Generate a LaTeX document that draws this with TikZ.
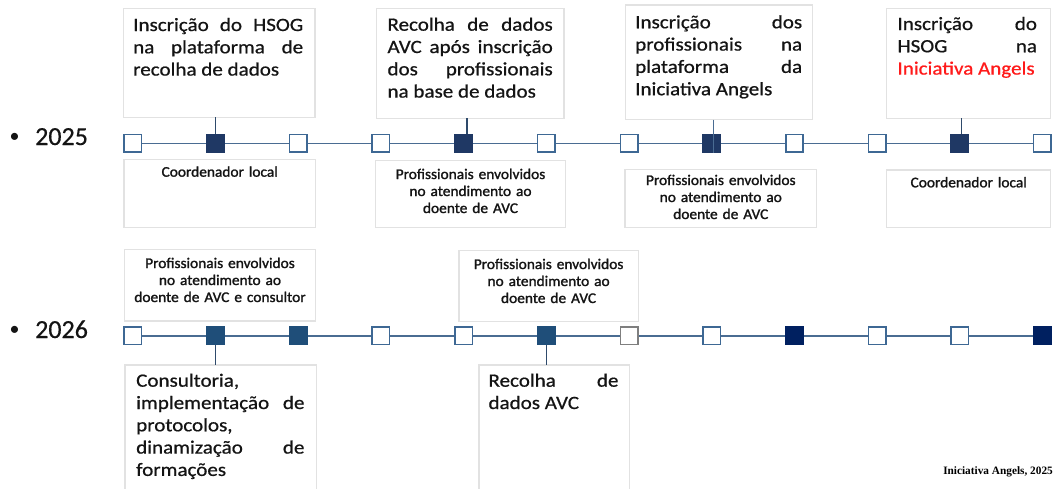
\documentclass[tikz,border=0pt]{standalone}
\usepackage{fontspec}
\setmainfont{Carlito}
\newfontfamily\bigf[FakeStretch=1.12,FakeBold=0.7]{Carlito}
\newfontfamily\smf[FakeStretch=1.04,FakeBold=1.4]{Carlito}
\newfontfamily\yrf[FakeBold=0.5]{Carlito}
\newfontfamily\credf{Liberation Serif}
\definecolor{linec}{HTML}{4A6C92}
\definecolor{sqc}{HTML}{3E6894}
\definecolor{fillA}{HTML}{1F3864}
\definecolor{fillB}{HTML}{1F4E79}
\definecolor{fillC}{HTML}{002060}
\definecolor{grayc}{HTML}{7F7F7F}
\definecolor{boxc}{HTML}{E2E2E2}
\definecolor{connc}{HTML}{2E4A6B}
\definecolor{txtc}{HTML}{141414}
\definecolor{redc}{HTML}{FF1A1A}
\hyphenpenalty=10000
\exhyphenpenalty=10000
\tolerance=10000
\hbadness=10000
\begin{document}
\begin{tikzpicture}[x=1pt,y=-1pt,
  frame/.style={draw=boxc, line width=1.5pt, anchor=north west, inner sep=0pt, outer sep=0pt},
  sq/.style={draw=sqc, line width=1.6pt, fill=white, minimum size=17.4pt, inner sep=0pt, outer sep=0.8pt},
  sqA/.style={sq, draw=fillA, fill=fillA},
  sqB/.style={sq, draw=fillB, fill=fillB},
  sqC/.style={sq, draw=fillC, fill=fillC},
  sqG/.style={sq, draw=grayc},
  tl/.style={draw=linec, line width=1.6pt},
  conn/.style={draw=connc, line width=1.2pt},
  bigtxt/.style={font=\bigf\fontsize{18.8}{22.3}\selectfont, text=txtc, align=justify, inner sep=0pt, anchor=base west},
  smtxt/.style={font=\smf\fontsize{14.8}{17}\selectfont, text=txtc, align=center, text width=200pt, inner sep=0pt, anchor=base},
  yr/.style={font=\yrf\fontsize{26}{30}\selectfont, text=txtc, inner sep=0pt}
]
\useasboundingbox (0,0) rectangle (1053,488);
\fill[white] (0,0) rectangle (1053,488);

% boxes, row 2025
\node[frame, minimum width=191.7pt, minimum height=109pt] (T1) at (123.3,8.3) {};
\node[frame, minimum width=187.5pt, minimum height=110pt] (T2) at (376.5,8.3) {};
\node[frame, minimum width=186.8pt, minimum height=114.5pt] (T3) at (625.5,5) {};
\node[frame, minimum width=164pt, minimum height=110pt] (T4) at (886.7,8.3) {};
\node[frame, minimum width=191.4pt, minimum height=68pt] (B1) at (124,159.5) {};
\node[frame, minimum width=189.6pt, minimum height=67pt] (B2) at (375.7,160.7) {};
\node[frame, minimum width=191.7pt, minimum height=58.4pt] (B3) at (625,169.3) {};
\node[frame, minimum width=164pt, minimum height=57.7pt] (B4) at (886.7,170) {};
% boxes, row 2026
\node[frame, minimum width=191pt, minimum height=71.5pt] (U1) at (124.4,249.5) {};
\node[frame, minimum width=179.3pt, minimum height=71pt] (U2) at (459,250.7) {};
\node[frame, minimum width=191.7pt, minimum height=130pt] (D1) at (125,365) {};
\node[frame, minimum width=150.3pt, minimum height=130pt] (D2) at (479,365) {};

% timelines
\coordinate (r1s) at (132.8,143.3);
\coordinate (r1e) at (1042.5,143.3);
\coordinate (r2s) at (132.8,335.7);
\coordinate (r2e) at (1042.5,335.7);
\draw[tl] (r1s) -- (r1e);
\draw[tl] (r2s) -- (r2e);

% squares 2025
\node[sq]  (a1)  at (132.8,143.3) {};
\node[sqA] (a2)  at (215.5,143.3) {};
\node[sq]  (a3)  at (298.2,143.3) {};
\node[sq]  (a4)  at (380.9,143.3) {};
\node[sqA] (a5)  at (463.6,143.3) {};
\node[sq]  (a6)  at (546.3,143.3) {};
\node[sq]  (a7)  at (629.0,143.3) {};
\node[sqA] (a8)  at (711.7,143.3) {};
\node[sq]  (a9)  at (794.4,143.3) {};
\node[sq]  (a10) at (877.1,143.3) {};
\node[sqA] (a11) at (959.8,143.3) {};
\node[sq]  (a12) at (1042.2,143.3) {};
% squares 2026
\node[sq]  (b1)  at (132.8,335.7) {};
\node[sqB] (b2)  at (215.5,335.7) {};
\node[sqB] (b3)  at (298.2,335.7) {};
\node[sq]  (b4)  at (380.9,335.7) {};
\node[sq]  (b5)  at (463.6,335.7) {};
\node[sqB] (b6)  at (546.3,335.7) {};
\node[sqG] (b7)  at (629.0,335.7) {};
\node[sq]  (b8)  at (711.7,335.7) {};
\node[sqC] (b9)  at (794.4,335.7) {};
\node[sq]  (b10) at (877.1,335.7) {};
\node[sq]  (b11) at (959.8,335.7) {};
\node[sqC] (b12) at (1042.2,335.7) {};

% connectors
\draw[conn] (T1.south -| a2) -- (a2.north);
\draw[conn] ([xshift=3.4pt]T2.south -| a5) -- ([xshift=3.4pt]a5.north);
\draw[conn, draw=linec] ([xshift=1.5pt]T3.south -| a8) -- ([xshift=1.5pt]a8.south);
\draw[conn] ([xshift=2pt]T4.south -| a11) -- ([xshift=2pt]a11.north);
\draw[conn] (b2.south) -- (b2.south |- D1.north);
\draw[conn] (b6.south) -- (b6.south |- D2.north);

% years
\node[yr, anchor=base west] (y25) at (35,145) {2025};
\node[yr, anchor=base, font=\fontsize{20}{24}\selectfont] (bul25) at (14.5,142) {\textbullet};
\node[yr, anchor=base west] (y26) at (35,338) {2026};
\node[yr, anchor=base, font=\fontsize{20}{24}\selectfont] (bul26) at (14.5,335) {\textbullet};

% texts 2025 top
\node[bigtxt, text width=170pt] (T1t) at (133,31) {Inscrição do HSOG\linebreak na plataforma de\linebreak recolha de dados};
\node[bigtxt, text width=165.3pt] (T2t) at (387.3,30.7) {Recolha de dados\linebreak AVC após inscrição\linebreak dos profissionais\linebreak na base de dados};
\node[bigtxt, text width=167pt] (T3t) at (635,28.3) {Inscrição dos\linebreak profissionais na\linebreak plataforma da\linebreak Iniciativa~Angels};
\node[bigtxt, text width=139.5pt] (T4t) at (897.3,30) {Inscrição do\linebreak HSOG na\linebreak \textcolor{redc}{Iniciativa~Angels}};
% texts 2025 bottom
\node[smtxt] (B1t) at (219.7,176.7) {Coordenador local};
\node[smtxt] (B2t) at (470.5,179) {Profissionais envolvidos\\no atendimento ao\\doente de AVC};
\node[smtxt] (B3t) at (720.8,185) {Profissionais envolvidos\\no atendimento ao\\doente de AVC};
\node[smtxt] (B4t) at (968.7,187.3) {Coordenador local};
% texts 2026
\node[smtxt] (U1t) at (220,268) {Profissionais envolvidos\\no atendimento ao\\doente de AVC e consultor};
\node[smtxt] (U2t) at (548.6,269) {Profissionais envolvidos\\no atendimento ao\\doente de AVC};
\node[bigtxt, text width=168.3pt] (D1t) at (136,386.7) {Consultoria,\\ implementação de\linebreak protocolos,\\ dinamização de\linebreak formações};
\node[bigtxt, text width=130pt] (D2t) at (488.3,386.7) {Recolha de\linebreak dados AVC};

% credit
\node[font=\credf\bfseries\fontsize{11.3}{13}\selectfont, text=black, inner sep=0pt, anchor=base east] (cred) at (1053,474) {Iniciativa Angels, 2025};
\end{tikzpicture}
\end{document}
